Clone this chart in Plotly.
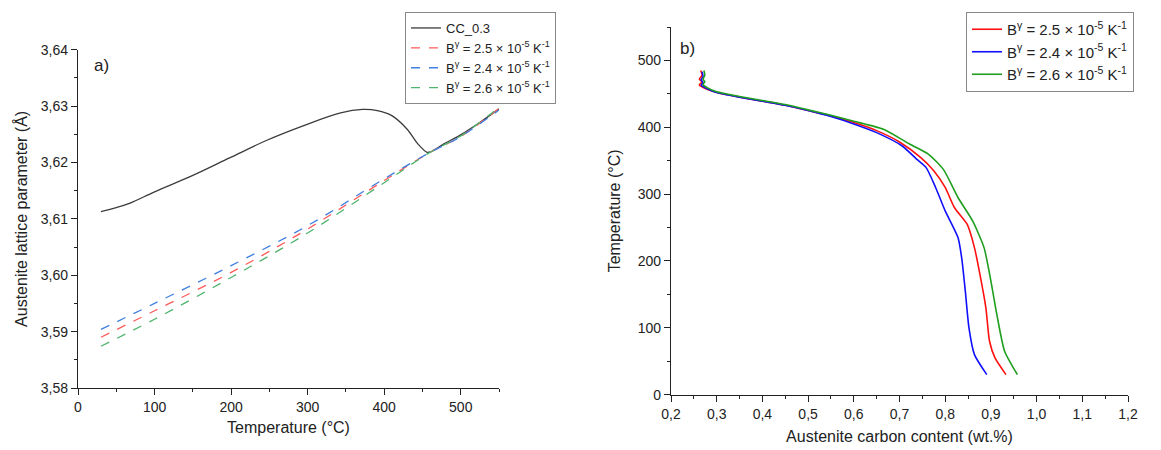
import plotly.graph_objects as go

# ---------- Panel a) data ----------
cc_T = [30, 50, 68, 100, 150, 198, 246, 294, 343, 372, 391, 410, 430, 444, 456, 461, 478, 500, 525, 550]
cc_a = [3.6113, 3.6120, 3.6128, 3.6148, 3.6177, 3.6208, 3.6239, 3.6265, 3.6288, 3.6294, 3.6292, 3.6283, 3.6259, 3.6233, 3.6218, 3.6219, 3.6233, 3.6249, 3.6271, 3.6295]

lin_T = [30, 100, 200, 300, 400, 460, 500, 550]
b25_a = [3.5890, 3.5937, 3.6005, 3.6082, 3.6168, 3.6218, 3.6246, 3.6296]
b24_a = [3.5904, 3.5950, 3.6017, 3.6088, 3.6171, 3.6218, 3.6246, 3.6293]
b26_a = [3.5874, 3.5922, 3.5996, 3.6075, 3.6164, 3.6218, 3.6247, 3.6298]

# ---------- Panel b) data ----------
red_c = [0.265, 0.268, 0.262, 0.268, 0.262, 0.275, 0.30, 0.35, 0.40, 0.45, 0.50, 0.55, 0.60, 0.65, 0.70, 0.746, 0.775, 0.80, 0.82, 0.848, 0.864, 0.876, 0.889, 0.897, 0.909, 0.933]
red_T = [485, 478, 472, 468, 463, 458, 452, 445, 439, 433, 425, 417, 407, 395, 378, 355, 335, 310, 280, 255, 220, 180, 130, 80, 55, 30]

blue_c = [0.268, 0.270, 0.266, 0.270, 0.266, 0.278, 0.30, 0.35, 0.40, 0.45, 0.50, 0.55, 0.60, 0.65, 0.706, 0.738, 0.758, 0.779, 0.80, 0.828, 0.836, 0.844, 0.852, 0.864, 0.891]
blue_T = [483, 476, 471, 467, 463, 458, 452, 445, 439, 433, 425, 416, 405, 392, 372, 352, 340, 310, 275, 235, 205, 155, 100, 60, 30]

green_c = [0.272, 0.274, 0.270, 0.274, 0.270, 0.280, 0.30, 0.35, 0.40, 0.45, 0.50, 0.55, 0.60, 0.665, 0.722, 0.763, 0.796, 0.828, 0.86, 0.885, 0.90, 0.913, 0.93, 0.958]
green_T = [485, 478, 472, 468, 464, 459, 453, 446, 440, 434, 426, 418, 409, 397, 375, 360, 337, 295, 260, 220, 170, 120, 65, 30]

leg_names = ["B<sup>γ</sup> = 2.5 × 10<sup>-5</sup> K<sup>-1</sup>",
             "B<sup>γ</sup> = 2.4 × 10<sup>-5</sup> K<sup>-1</sup>",
             "B<sup>γ</sup> = 2.6 × 10<sup>-5</sup> K<sup>-1</sup>"]

W, H = 1161, 450
fig = go.Figure()

# panel a traces
fig.add_trace(go.Scatter(x=cc_T, y=cc_a, mode="lines", name="CC_0.3",
                         line=dict(color="#3c3c3c", width=1.3, shape="spline"),
                         xaxis="x", yaxis="y", legend="legend"))
for ya, nm, col in [(b25_a, leg_names[0], "#ff5a5a"), (b24_a, leg_names[1], "#3f7fe0"), (b26_a, leg_names[2], "#4fb46e")]:
    fig.add_trace(go.Scatter(x=lin_T, y=ya, mode="lines", name=nm,
                             line=dict(color=col, width=1.3, dash="dash", shape="spline"),
                             xaxis="x", yaxis="y", legend="legend"))

# panel b traces
for xc, yt, nm, col in [(red_c, red_T, leg_names[0], "#ff1010"), (blue_c, blue_T, leg_names[1], "#1010ff"), (green_c, green_T, leg_names[2], "#1f9e1f")]:
    fig.add_trace(go.Scatter(x=xc, y=yt, mode="lines", name=nm,
                             line=dict(color=col, width=1.6, shape="spline", smoothing=0.6),
                             xaxis="x2", yaxis="y2", legend="legend2"))

def px_x(p):
    return p / W

def px_y(p):
    return 1 - p / H

tickfont = dict(family="Liberation Sans, Arial, sans-serif", size=14, color="#222")
titlefont = dict(family="Liberation Sans, Arial, sans-serif", size=16, color="#222")

axis_common = dict(showgrid=False, zeroline=False, showline=True, linecolor="#222", linewidth=1.3,
                   ticks="outside", ticklen=6, tickwidth=1.3, tickcolor="#222", tickfont=tickfont,
                   automargin=False, mirror=False)

fig.update_layout(
    width=W, height=H,
    margin=dict(l=0, r=0, t=0, b=0),
    paper_bgcolor="white", plot_bgcolor="white",
    separators=", ",
    xaxis=dict(domain=[px_x(70), px_x(491)], range=[0, 550], dtick=100, tick0=0,
               minor=dict(dtick=50, ticks="outside", ticklen=3, tickcolor="#222"),
               title=dict(text="Temperature (°C)", font=titlefont, standoff=7),
               anchor="y", **axis_common),
    yaxis=dict(domain=[px_y(380), px_y(41.7)], range=[3.58, 3.64], dtick=0.01, tickformat=".2f",
               minor=dict(dtick=0.005, ticks="outside", ticklen=3, tickcolor="#222"),
               title=dict(text="Austenite lattice parameter (Å)", font=titlefont, standoff=9),
               anchor="x", **axis_common),
    xaxis2=dict(domain=[px_x(663), px_x(1120)], range=[0.2, 1.2], dtick=0.1, tick0=0.2, tickformat=".1f",
                minor=dict(dtick=0.05, ticks="outside", ticklen=3, tickcolor="#222"),
                title=dict(text="Austenite carbon content (wt.%)", font=titlefont, standoff=10),
                anchor="y2", **axis_common),
    yaxis2=dict(domain=[px_y(386.7), px_y(19)], range=[0, 550], dtick=100, tick0=0,
                minor=dict(dtick=50, ticks="outside", ticklen=3, tickcolor="#222"),
                title=dict(text="Temperature (°C)", font=titlefont, standoff=13),
                anchor="x2", **axis_common),
    legend=dict(x=px_x(397), y=px_y(4), xanchor="left", yanchor="top",
                bgcolor="white", bordercolor="#888", borderwidth=1,
                font=dict(family="Liberation Sans, Arial, sans-serif", size=13, color="#222"),
                tracegroupgap=0, itemwidth=30),
    legend2=dict(x=px_x(958), y=px_y(4), xanchor="left", yanchor="top",
                 bgcolor="white", bordercolor="#888", borderwidth=1,
                 font=dict(family="Liberation Sans, Arial, sans-serif", size=15, color="#222"),
                 tracegroupgap=0, itemwidth=30),
    showlegend=True,
    annotations=[
        dict(text="a)", x=px_x(84), y=px_y(57), xref="paper", yref="paper", showarrow=False,
             xanchor="left", yanchor="middle", font=dict(family="Liberation Sans, Arial, sans-serif", size=17, color="#222")),
        dict(text="b)", x=px_x(670), y=px_y(40), xref="paper", yref="paper", showarrow=False,
             xanchor="left", yanchor="middle", font=dict(family="Liberation Sans, Arial, sans-serif", size=17, color="#222")),
    ],
)

fig.write_html("out.html")
